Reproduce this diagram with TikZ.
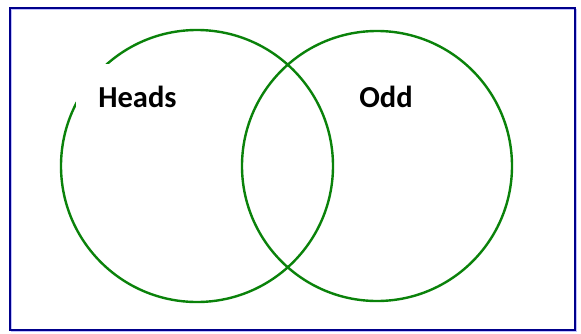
\documentclass[tikz,border=0pt]{standalone}
\usepackage{fontspec}
\setmainfont{Carlito}
\definecolor{vgreen}{RGB}{10,130,10}
\definecolor{vnavy}{RGB}{0,0,140}
\tikzset{
  setc/.style={draw=vgreen, line width=2.4pt},
  lbl/.style={font=\fontsize{30.5}{36}\selectfont\bfseries, inner sep=0pt, anchor=base},
}
\begin{document}
\begin{tikzpicture}[x=1pt,y=-1pt]
\useasboundingbox (0,0) rectangle (581,333);
\fill[white] (0,0) rectangle (581,333);
\draw[blue!25, line width=1.5pt] (11.5,9.5) rectangle (576.5,331.5);
\draw[vnavy, line width=2.2pt] (10,8) rectangle (575,330);
\node[setc, circle, minimum size=272pt, inner sep=0pt] (heads) at (197,166) {};
\node[setc, circle, minimum size=270pt, inner sep=0pt] (odd) at (377,166) {};
\fill[white] (76,64) rectangle (200,128);
\node[lbl] (headslbl) at (137.5,107) {Heads};
\node[lbl] (oddlbl) at (386,107) {Odd};
\end{tikzpicture}
\end{document}
